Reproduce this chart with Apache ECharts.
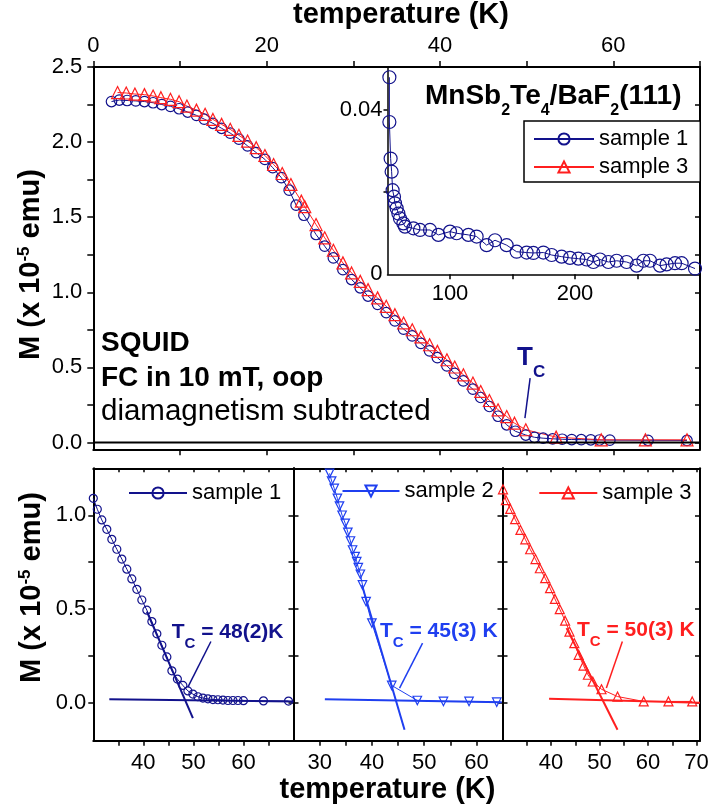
<!DOCTYPE html>
<html><head><meta charset="utf-8">
<script src="https://cdn.jsdelivr.net/npm/echarts@6/dist/echarts.min.js"></script>
<style>html,body{margin:0;padding:0;background:#fff}#c{width:714px;height:809px}</style>
</head><body><div id="c"></div>
<script>
// ---------------- DATA ----------------
// main panel, sample 1 (K, 1e-5 emu)
const mainS1T = [2.1,3.0,3.9,4.9,5.9,6.9,7.9,8.9,9.9,10.9,11.9,12.8,13.8,14.8,15.8,16.8,17.8,18.8,19.8,20.7,21.7,22.6,23.4,24.3,25.7,26.7,27.7,28.8,29.8,30.8,31.7,32.8,33.8,34.8,35.8,36.8,37.8,38.8,39.7,40.8,41.7,42.7,43.8,44.7,45.7,46.7,47.7,48.7,49.9,50.9,51.9,53.0,54.1,55.2,56.3,57.4,58.4,59.6,64.0,68.5];
const mainS1M = [2.27,2.28,2.277,2.274,2.27,2.262,2.25,2.238,2.222,2.2,2.178,2.153,2.125,2.092,2.06,2.02,1.975,1.93,1.885,1.83,1.763,1.68,1.58,1.513,1.385,1.307,1.229,1.151,1.085,1.03,0.975,0.92,0.865,0.81,0.755,0.71,0.66,0.61,0.565,0.51,0.46,0.41,0.355,0.3,0.24,0.175,0.118,0.075,0.05,0.035,0.029,0.025,0.022,0.02,0.019,0.018,0.017,0.016,0.015,0.014];
// main panel, sample 3
const mainS3T = [2.8,3.8,4.8,5.9,6.9,7.8,8.9,9.9,10.8,11.9,12.9,13.8,14.8,15.8,16.8,17.8,18.8,19.8,20.8,21.8,22.8,24.0,24.4,25.7,26.7,27.7,28.8,29.8,30.8,31.7,32.8,33.8,34.8,35.8,36.8,37.8,38.8,39.7,40.8,41.7,42.7,43.8,44.7,45.7,46.7,47.7,48.6,49.9,53.4,58.6,63.7,68.5];
const mainS3M = [2.33,2.327,2.32,2.316,2.307,2.296,2.285,2.269,2.24,2.213,2.185,2.151,2.118,2.085,2.045,2.007,1.963,1.911,1.851,1.791,1.718,1.607,1.57,1.451,1.363,1.28,1.196,1.129,1.073,1.018,0.963,0.907,0.851,0.796,0.751,0.703,0.651,0.607,0.551,0.503,0.451,0.396,0.34,0.28,0.218,0.173,0.129,0.085,0.036,0.018,0.018,0.018];
// inset, sample 1 up to room temperature
const insetT = [51.5,51.5,52.5,53.3,54.1,55.2,56,57.3,58.7,60,62.7,64,70.7,76,84,90.7,100,105.3,114.7,121.3,129.3,136,145.3,153.3,161.3,166.7,174.7,181.3,189.3,196,202.7,209.3,214.7,220,226.7,233.3,241.3,249.3,254.7,260,268,273.3,280,285.3,296];
const insetM = [0.048,0.0371,0.0282,0.025,0.0205,0.0189,0.0173,0.0161,0.0148,0.0136,0.0124,0.0116,0.0112,0.0108,0.0108,0.0096,0.0104,0.0100,0.0096,0.0092,0.0071,0.0083,0.0071,0.0055,0.0053,0.0052,0.0053,0.0047,0.0043,0.004,0.0038,0.0036,0.003,0.0036,0.003,0.0033,0.003,0.0021,0.0033,0.0033,0.0021,0.0024,0.0027,0.0027,0.0014];
// lower panels
const p1T = [30,30.8,31.7,32.7,33.7,34.7,35.7,36.7,37.7,38.7,39.7,40.7,41.7,42.7,43.7,44.7,45.7,46.8,47.9,48.9,49.9,50.9,51.9,52.9,53.9,54.9,55.9,56.9,57.9,58.9,60,64,69];
const p1M = [1.09,1.032,0.975,0.925,0.872,0.819,0.767,0.713,0.661,0.606,0.549,0.495,0.434,0.369,0.308,0.246,0.172,0.128,0.094,0.065,0.048,0.034,0.027,0.023,0.019,0.018,0.016,0.014,0.014,0.014,0.013,0.012,0.011];
const p2T = [31.9,32.3,32.8,33.4,33.8,34.3,34.9,35.4,35.9,36.3,36.8,37.1,37.4,37.8,38.2,38.9,40,43.8,48.7,53.7,58.6,63.9];
const p2M = [1.223,1.182,1.143,1.09,1.049,1.0,0.957,0.909,0.863,0.815,0.78,0.753,0.721,0.686,0.629,0.54,0.426,0.094,0.014,0.009,0.009,0.005];
const p3T = [30.1,30.7,31.6,32.6,33.7,34.7,35.7,36.8,37.7,38.8,39.8,40.8,41.8,42.9,43.8,44.8,45.7,46.7,47.6,48.6,50.4,53.7,59.1,64.2,69.1];
const p3M = [1.138,1.081,1.034,0.979,0.922,0.872,0.819,0.767,0.718,0.665,0.612,0.555,0.5,0.439,0.381,0.319,0.257,0.2,0.151,0.115,0.074,0.035,0.009,0.009,0.009];
// linear fits (T, M end points)
const fit1Steep = [[40.7,0.487],[49.9,-0.08]];
const fit1Flat  = [[33.2,0.021],[70,0.009]];
const fit2Steep = [[38.1,0.629],[46.25,-0.142]];
const fit2Flat  = [[31,0.021],[64.85,0.005]];
const fit3Steep = [[43.2,0.399],[53.7,-0.142]];
const fit3Flat  = [[39.6,0.023],[70.7,0.002]];
const zeroLine  = [[0,0],[70,0]];
// arrows (from, to) in data coordinates
const arrowMain = [[50.4,0.429],[49.8,0.162]];
const arrowP1 = [[53.5,0.328],[48.9,0.085]];
const arrowP2 = [[49.7,0.319],[45.3,0.08]];
const arrowP3 = [[54.7,0.328],[51.4,0.08]];
// tick / label values
const mainXLabels = [0,20,40,60];
const mainXTicks = [0,10,20,30,40,50,60,70];
const mainYLabels = [0,0.5,1.0,1.5,2.0,2.5];
const mainYTicks = [0,0.25,0.5,0.75,1.0,1.25,1.5,1.75,2.0,2.25,2.5];
const insetXLabels = [100,200];
const insetXTicks = [100,150,200,250];
const insetYLabels = [0,0.04];
const insetYTicks = [0.02,0.04];
const lowYLabels = [0,0.5,1.0];
const lowYTicks = [0,0.25,0.5,0.75,1.0];
const p1XLabels = [40,50,60];
const p1XTicks = [35,40,45,50,55,60,65];
const p2XLabels = [30,40,50,60];
const p2XTicks = [30,35,40,45,50,55,60];
const p3XLabels = [40,50,60,70];
const p3XTicks = [35,40,45,50,55,60,65,70];

// ---------------- STYLE ----------------
const FONT = "'Liberation Sans', Arial, Helvetica, sans-serif";
const NAVY = '#12128c';
const BLUE = '#1f3ff0';
const RED = '#ff1f1f';

const zip = (a, b) => a.map((v, i) => [v, b[i]]);

function ax(o) {
  return {
    type: 'value', gridIndex: o.grid, position: o.pos, min: o.min, max: o.max,
    splitLine: {show: false},
    axisLine: {show: true, onZero: false, lineStyle: {color: '#000', width: o.lw || 2}},
    axisTick: {show: !!o.ticks, inside: !!o.inside, length: o.len || 5,
      customValues: o.ticks || [], lineStyle: {color: '#000', width: 1.5}},
    axisLabel: {show: !!o.labels, customValues: o.labels || [], margin: o.margin || 8,
      fontSize: o.fs || 22, color: '#000', fontFamily: FONT,
      formatter: o.fmt || (v => String(v))},
    silent: true
  };
}
const f1 = v => v.toFixed(1);

function dataSeries(name, xi, yi, T, M, color, symbol, size, rot) {
  return {
    type: 'line', name, xAxisIndex: xi, yAxisIndex: yi, data: zip(T, M),
    symbol, symbolSize: size, symbolRotate: rot || 0, showAllSymbol: true,
    itemStyle: {color: 'rgba(255,255,255,0)', borderColor: color, borderWidth: 1.2},
    lineStyle: {color, width: 1}, emphasis: {disabled: true}, z: 3
  };
}
function fitSeries(name, xi, yi, pts, color, arrow) {
  const s = {
    type: 'line', name, xAxisIndex: xi, yAxisIndex: yi, data: pts,
    symbol: 'none', lineStyle: {color, width: 2}, emphasis: {disabled: true}, z: 4
  };
  if (arrow) {
    s.markLine = {silent: true, symbol: ['none', 'arrow'], symbolSize: [0, 11],
      label: {show: false}, lineStyle: {color, width: 1.5, type: 'solid'},
      data: [[{coord: arrow[0]}, {coord: arrow[1]}]]};
  }
  return s;
}

function gtext(x, y, text, rich) {
  return {type: 'text', x, y, silent: true, z: 100,
    style: {text, rich, align: 'left', verticalAlign: 'top', fontFamily: FONT}};
}
// normal / superscript rich token (top-aligned)
const tok = (size, color) => ({fontSize: size, lineHeight: size, fontWeight: 'bold',
  fontFamily: FONT, fill: color, verticalAlign: 'top'});
// subscript token: bottom-aligned in a taller line box
const sub = (size, color, lh) => ({fontSize: size, lineHeight: lh, fontWeight: 'bold',
  fontFamily: FONT, fill: color, verticalAlign: 'bottom'});

const grids = [
  {left: 93.3, top: 67, width: 606.7, height: 382.3},   // main
  {left: 387.5, top: 67, width: 312.5, height: 207.3},  // inset
  {left: 93.3, top: 468.3, width: 200.2, height: 272.4}, // panel 1
  {left: 293.5, top: 468.3, width: 209, height: 272.4},  // panel 2
  {left: 502.5, top: 468.3, width: 197.5, height: 272.4} // panel 3
];

const xAxes = [
  ax({grid: 0, pos: 'top', min: 0, max: 70, labels: mainXLabels, ticks: mainXTicks, len: 6, margin: 10}),
  ax({grid: 0, pos: 'bottom', min: 0, max: 70, ticks: mainXTicks.slice(1, 7), len: 6}),
  ax({grid: 1, pos: 'bottom', min: 50, max: 300, labels: insetXLabels, ticks: insetXTicks, len: 5, margin: 9, lw: 1.5}),
  ax({grid: 2, pos: 'bottom', min: 30, max: 70, labels: p1XLabels, ticks: p1XTicks, len: 5, margin: 11}),
  ax({grid: 2, pos: 'top', min: 30, max: 70, ticks: p1XTicks, inside: true, len: 4}),
  ax({grid: 3, pos: 'bottom', min: 25, max: 65, labels: p2XLabels, ticks: p2XTicks, len: 5, margin: 11}),
  ax({grid: 3, pos: 'top', min: 25, max: 65, ticks: p2XTicks, inside: true, len: 4}),
  ax({grid: 4, pos: 'bottom', min: 30, max: 70.7, labels: p3XLabels, ticks: p3XTicks, len: 5, margin: 11}),
  ax({grid: 4, pos: 'top', min: 30, max: 70.7, ticks: p3XTicks, inside: true, len: 4})
];
const yAxes = [
  ax({grid: 0, pos: 'left', min: -0.045, max: 2.5, labels: mainYLabels, ticks: mainYTicks, len: 6, margin: 11, fmt: f1}),
  ax({grid: 0, pos: 'right', min: -0.045, max: 2.5, ticks: mainYTicks, inside: true, len: 5}),
  ax({grid: 1, pos: 'left', min: 0, max: 0.0505, labels: insetYLabels, ticks: insetYTicks, len: 4, margin: 5, lw: 1.5,
      fmt: v => (v === 0 ? '0' : String(v))}),
  ax({grid: 2, pos: 'left', min: -0.2, max: 1.25, labels: lowYLabels, ticks: lowYTicks, len: 5, margin: 7, fmt: f1}),
  ax({grid: 2, pos: 'right', min: -0.2, max: 1.25, ticks: lowYTicks, inside: true, len: 5}),
  ax({grid: 3, pos: 'left', min: -0.2, max: 1.25, ticks: lowYTicks, inside: true, len: 5}),
  ax({grid: 3, pos: 'right', min: -0.2, max: 1.25, ticks: lowYTicks, inside: true, len: 5}),
  ax({grid: 4, pos: 'left', min: -0.2, max: 1.25, ticks: lowYTicks, inside: true, len: 5}),
  ax({grid: 4, pos: 'right', min: -0.2, max: 1.25, ticks: lowYTicks, inside: true, len: 5})
];

const series = [
  fitSeries('zero', 0, 0, zeroLine, '#000'),
  dataSeries('sample 1', 0, 0, mainS1T, mainS1M, NAVY, 'circle', 10.5),
  Object.assign(dataSeries('sample 3', 0, 0, mainS3T, mainS3M, RED, 'triangle', 12), {
    markLine: {silent: true, symbol: ['none', 'arrow'], symbolSize: [0, 10], label: {show: false},
      lineStyle: {color: NAVY, width: 1.5, type: 'solid'},
      data: [[{coord: arrowMain[0]}, {coord: arrowMain[1]}]]}
  }),
  dataSeries('inset sample 1', 2, 2, insetT, insetM, NAVY, 'circle', 13),
  dataSeries('sample 1', 3, 3, p1T, p1M, NAVY, 'circle', 8),
  fitSeries('fit1a', 3, 3, fit1Steep, NAVY, arrowP1),
  fitSeries('fit1b', 3, 3, fit1Flat, NAVY),
  dataSeries('sample 2', 5, 5, p2T, p2M, BLUE, 'triangle', 8.5, 180),
  fitSeries('fit2a', 5, 5, fit2Steep, BLUE, arrowP2),
  fitSeries('fit2b', 5, 5, fit2Flat, BLUE),
  dataSeries('sample 3', 7, 7, p3T, p3M, RED, 'triangle', 9),
  fitSeries('fit3a', 7, 7, fit3Steep, RED, arrowP3),
  fitSeries('fit3b', 7, 7, fit3Flat, RED)
];

const legTxt = {fontSize: 22, lineHeight: 24, fontFamily: FONT, color: '#000'};
const legend = [
  {data: ['sample 1', 'sample 3'], orient: 'vertical', left: 524, top: 121, padding: [6, 12, 3, 9],
   itemGap: 4, itemWidth: 60, itemHeight: 14, borderColor: '#000', borderWidth: 1.5,
   backgroundColor: '#fff', textStyle: legTxt, selectedMode: false},
  {data: ['sample 1'], left: 128, top: 481, padding: 0, itemWidth: 58, itemHeight: 14, textStyle: legTxt, selectedMode: false},
  {data: ['sample 2'], left: 341.5, top: 479, padding: 0, itemWidth: 57, itemHeight: 14, textStyle: legTxt, selectedMode: false},
  {data: ['sample 3'], left: 538.3, top: 481, padding: 0, itemWidth: 58, itemHeight: 14, textStyle: legTxt, selectedMode: false}
];

const plain = (x, y, text, size, weight, align) => ({type: 'text', x, y, silent: true, z: 100,
  style: {text, fontSize: size, fontWeight: weight, fontFamily: FONT, fill: '#000',
    align: align || 'left', verticalAlign: 'middle'}});

const graphic = [
  // axis titles
  plain(401, 14.6, 'temperature (K)', 29, 'bold', 'center'),
  plain(387.5, 790, 'temperature (K)', 29, 'bold', 'center'),
  {type: 'text', x: 30.5, y: 264.5, rotation: Math.PI / 2, silent: true, z: 100,
   style: {text: '{a|M (x 10}{b|-5}{a| emu)}', align: 'center', verticalAlign: 'middle',
     rich: {a: tok(29, '#000'), b: tok(17, '#000')}}},
  {type: 'text', x: 31.5, y: 587.5, rotation: Math.PI / 2, silent: true, z: 100,
   style: {text: '{a|M (x 10}{b|-5}{a| emu)}', align: 'center', verticalAlign: 'middle',
     rich: {a: tok(29, '#000'), b: tok(17, '#000')}}},
  // sample title
  gtext(425, 82.6, '{a|MnSb}{b|2}{a|Te}{b|4}{a|/BaF}{b|2}{a|(111)}',
    {a: tok(28, '#000'), b: sub(16, '#000', 35.6)}),
  // measurement notes
  plain(101, 343, 'SQUID', 28, 'bold'),
  plain(101, 378.3, 'FC in 10 mT, oop', 28, 'bold'),
  plain(101, 411.6, 'diamagnetism subtracted', 29.5, 'normal'),
  // Tc labels
  gtext(517, 344.5, '{t|T}{s|C}', {t: tok(26, NAVY), s: sub(17, NAVY, 35.9)}),
  gtext(171.7, 621.5, '{t|T}{s|C}{t| = 48(2)K}', {t: tok(21, NAVY), s: sub(15, NAVY, 29.8)}),
  gtext(380, 621, '{t|T}{s|C}{t| = 45(3) K}', {t: tok(21, BLUE), s: sub(15, BLUE, 29.8)}),
  gtext(577, 620, '{t|T}{s|C}{t| = 50(3) K}', {t: tok(21, RED), s: sub(15, RED, 29.8)})
];

const chart = echarts.init(document.getElementById('c'), null, {renderer: 'canvas'});
chart.setOption({
  animation: false,
  backgroundColor: '#fff',
  textStyle: {fontFamily: FONT},
  grid: grids,
  xAxis: xAxes,
  yAxis: yAxes,
  legend,
  series,
  graphic
});
</script></body></html>
